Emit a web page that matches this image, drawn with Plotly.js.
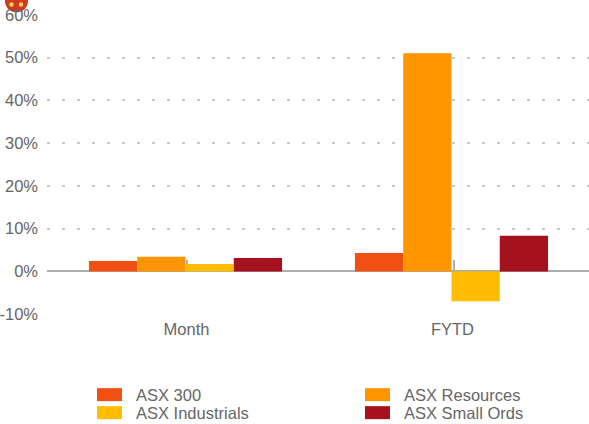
<!DOCTYPE html>
<html><head><meta charset="utf-8">
<script src="https://cdn.plot.ly/plotly-3.0.1.min.js"></script>
<style>html,body{margin:0;padding:0;background:#fff}#c{width:589px;height:424px}</style>
</head><body><div id="c"></div>
<script>
const categories = ["Month","FYTD"];
const seriesNames = ["ASX 300","ASX Resources","ASX Industrials","ASX Small Ords"];
const asx300 = [2.45,4.3];
const resources = [3.4,51];
const industrials = [1.75,-7];
const smallOrds = [3.15,8.35];
const colors = ["#f15015","#ff9500","#ffbc00","#a6111e"];
const tickVals = [-10,0,10,20,30,40,50,60];
const tickText = ["-10%","0%","10%","20%","30%","40%","50%","60%"];
const seriesValues = [asx300,resources,industrials,smallOrds];
const W=589,H=424,L=47,R=589,T=13.85,B=314.85;
const textColor="#666", fontFam='"Liberation Sans Narrow","Liberation Sans",Arial,sans-serif';
const px=x=>(x-L)/(R-L), py=y=>(B-y)/(B-T);
const traces = seriesNames.map((n,i)=>({type:"bar",name:n,x:categories,y:seriesValues[i],marker:{color:colors[i],line:{width:0}},showlegend:false,hoverinfo:"x+y"}));
const legendCols=[97,365], legendRows=[394.5,412.5];
const shapes=[], annotations=[];
// decorative blob cropped at the top-left corner
shapes.push({type:"circle",layer:"below",xref:"paper",yref:"paper",x0:px(5),x1:px(28),y0:py(12),y1:py(-10),fillcolor:"#cf3a1c",line:{width:0}});
[11.5,21].forEach(c=>shapes.push({type:"circle",layer:"below",xref:"paper",yref:"paper",x0:px(c-2.2),x1:px(c+2.2),y0:py(6.5),y1:py(2.1),fillcolor:"#f8d060",line:{width:0}}));
seriesNames.forEach((n,i)=>{
  const cx=legendCols[i%2], cy=legendRows[Math.floor(i/2)];
  shapes.push({type:"rect",xref:"paper",yref:"paper",x0:px(cx),x1:px(cx+25),y0:py(cy+6.5),y1:py(cy-6.5),fillcolor:colors[i],line:{width:0}});
  annotations.push({xref:"paper",yref:"paper",x:px(cx+37),y:py(cy),xanchor:"left",yanchor:"middle",text:n,showarrow:false,font:{family:fontFam,size:16.5,color:textColor}});
});
// short tick marks rising from the zero line, sitting just right of each category centre
[1.5/266,2.5/266].forEach((s,i)=>{
  shapes.push({type:"line",layer:"below",xref:"x",yref:"y",x0:categories[i],x1:categories[i],x0shift:s,x1shift:s,y0:0,y1:2.7,line:{color:"#b0b0b0",width:2}});
});
const layout={width:W,height:H,margin:{l:L,r:W-R,t:T,b:H-B},paper_bgcolor:"#fff",plot_bgcolor:"rgba(0,0,0,0)",
 barmode:"group",bargap:0.274,bargroupgap:0,showlegend:false,
 font:{family:fontFam,size:16.5,color:textColor},
 xaxis:{type:"category",categoryorder:"array",categoryarray:categories,range:[-0.5207,1.517],showgrid:false,showline:false,ticks:"",zeroline:false,tickfont:{size:16.5,color:textColor},ticklen:0,automargin:false,ticklabelshift:1,ticklabelstandoff:2},
 yaxis:{range:[-10.2,60.2],tickvals:tickVals,ticktext:tickText,showline:false,ticks:"",automargin:false,
   showgrid:true,gridcolor:"#c8c8c8",gridwidth:2,griddash:"3px,12px",
   zeroline:true,zerolinecolor:"#adadad",zerolinewidth:2,tickfont:{size:16.5,color:textColor},ticklabelstandoff:8},
 shapes,annotations};
Plotly.newPlot("c",traces,layout,{displayModeBar:false,staticPlot:true});
</script></body></html>
